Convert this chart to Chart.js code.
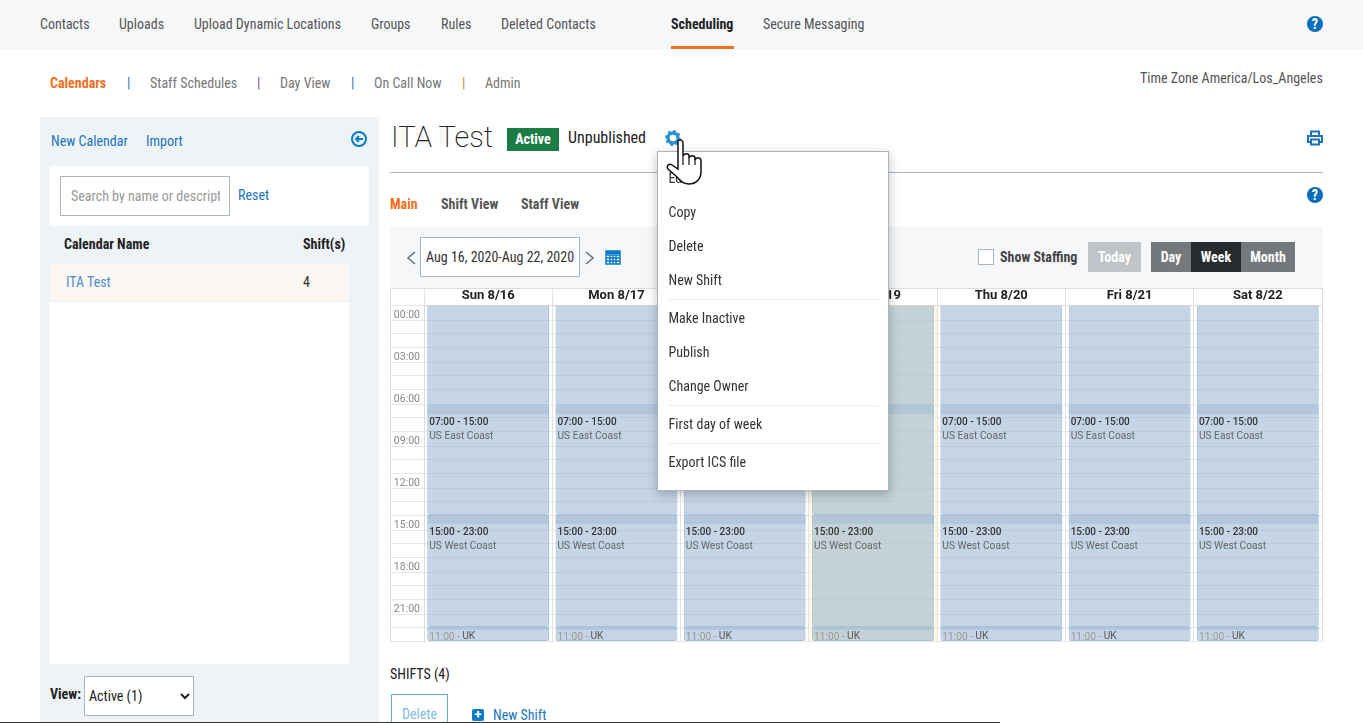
<!DOCTYPE html>
<html>
<head>
<meta charset="utf-8">
<title>ITA Test</title>
<script src="https://cdn.jsdelivr.net/npm/chart.js@4/dist/chart.umd.min.js"></script>
<style>
  html, body { margin: 0; padding: 0; background: #fff; overflow: hidden; }
  body { width: 1363px; height: 723px; position: relative; font-family: "Roboto Condensed", Roboto, sans-serif; font-size: 14px; color: #333; font-stretch: condensed; }
  .box { position: absolute; box-sizing: border-box; }
  .t { position: absolute; white-space: nowrap; transform: translateY(-50%); line-height: 1; }
  .nav { color: #555; }
  .b { font-weight: 700; }
  .link { color: #1b75bb; }
  .btn { position: absolute; top: 242px; height: 30px; line-height: 30px; text-align: center; color: #fff; font-weight: 700; }
  .sep { position: absolute; left: 668px; width: 210px; height: 1px; background: #eee; }
  canvas { position: absolute; left: 391px; top: 288px; }
  svg { position: absolute; }
</style>
</head>
<body>
<!-- barra de arriba -->
<div class="box" style="left:0;top:0;width:1363px;height:49px;background:#f6f7f9"></div>
<span class="t nav" style="left:40px;top:24px">Contacts</span>
<span class="t nav" style="left:119px;top:24px">Uploads</span>
<span class="t nav" style="left:194px;top:24px">Upload Dynamic Locations</span>
<span class="t nav" style="left:371px;top:24px">Groups</span>
<span class="t nav" style="left:441px;top:24px">Rules</span>
<span class="t nav" style="left:501px;top:24px">Deleted Contacts</span>
<span class="t b" style="left:671px;top:24px;color:#222">Scheduling</span>
<div class="box" style="left:671px;top:46px;width:63px;height:3px;background:#f26f21"></div>
<span class="t nav" style="left:763px;top:24px">Secure Messaging</span>
<svg style="left:1307px;top:16px" width="16" height="16" viewBox="0 0 16 16"><circle cx="8" cy="8" r="8" fill="#0a6ebd"/><text x="8" y="13" font-size="14" font-weight="700" text-anchor="middle" fill="#fff">?</text></svg>

<span class="t b" style="left:50px;top:83px;color:#f26f21">Calendars</span>
<span class="t" style="left:127px;top:83px;color:#1b75bb">|</span>
<span class="t nav" style="left:150px;top:83px;color:#777">Staff Schedules</span>
<span class="t" style="left:257px;top:83px;color:#8a4f9e">|</span>
<span class="t nav" style="left:280px;top:83px;color:#777">Day View</span>
<span class="t" style="left:351px;top:83px;color:#1b75bb">|</span>
<span class="t nav" style="left:374px;top:83px;color:#777">On Call Now</span>
<span class="t" style="left:462px;top:83px;color:#c98a3a">|</span>
<span class="t nav" style="left:485px;top:83px;color:#777">Admin</span>
<span class="t nav" style="left:1140px;top:78px">Time Zone America/Los_Angeles</span>

<!-- panel izquierdo -->
<div class="box" style="left:40px;top:117px;width:339px;height:606px;background:#eef3f6"></div>
<span class="t link" style="left:51px;top:141px">New Calendar</span>
<span class="t link" style="left:146px;top:141px">Import</span>
<svg style="left:351px;top:131px" width="16" height="16" viewBox="0 0 16 16"><circle cx="8" cy="8" r="7" fill="none" stroke="#0a7cc4" stroke-width="2"/><path d="M12 8H6M8 5L5 8l3 3" fill="none" stroke="#0a7cc4" stroke-width="2"/></svg>
<div class="box" style="left:50px;top:166px;width:319px;height:60px;background:#fff"></div>
<div class="box" style="left:60px;top:176px;width:170px;height:40px;border:1px solid #a9b6c0;background:#fff"><span class="t" style="left:10px;top:19px;color:#999;width:149px;overflow:hidden">Search by name or descripti</span></div>
<span class="t link" style="left:238px;top:195px">Reset</span>
<span class="t b" style="left:64px;top:244px;color:#222">Calendar Name</span>
<span class="t b" style="left:303px;top:244px;color:#222">Shift(s)</span>
<div class="box" style="left:50px;top:264px;width:299px;height:400px;background:#fff"></div>
<div class="box" style="left:50px;top:264px;width:299px;height:38px;background:#fcf7f3;border-bottom:1px solid #eef3f6"></div>
<span class="t link" style="left:66px;top:282px;color:#4a90c8">ITA Test</span>
<span class="t" style="left:303px;top:282px">4</span>
<span class="t b" style="left:50px;top:694px;color:#222">View:</span>
<select class="box" style="left:84px;top:676px;width:110px;height:40px;border:1px solid #a9b6c0;background:#fff;font:inherit;color:#222;padding-left:0"><option>Active (1)</option></select>

<!-- encabezado del calendario -->
<span class="t" style="left:391px;top:137px;font-family:Roboto;font-stretch:normal;font-size:29px;font-weight:200;color:#222">ITA Test</span>
<div class="box b" style="left:507px;top:128px;width:52px;height:23px;line-height:23px;text-align:center;background:#1c7c45;color:#fff">Active</div>
<span class="t" style="left:568px;top:138px;color:#222;font-size:16px">Unpublished</span>
<svg style="left:665px;top:130px" width="16" height="16" viewBox="0 0 16 16"><circle cx="8" cy="8" r="5" fill="none" stroke="#2a8fd0" stroke-width="3.4"/><circle cx="8" cy="8" r="7" fill="none" stroke="#2a8fd0" stroke-width="2" stroke-dasharray="2.6 2.9"/></svg>
<svg style="left:1307px;top:130px" width="16" height="16" viewBox="0 0 16 16"><path d="M4 6V1.5h8V6M4 12H1V6h14v6h-3M4 9.5h8v5H4z" fill="none" stroke="#1b75bb" stroke-width="2"/></svg>
<div class="box" style="left:390px;top:172px;width:933px;height:1px;background:#a9b6c0"></div>
<span class="t b" style="left:390px;top:204px;color:#f26f21">Main</span>
<span class="t b" style="left:441px;top:204px;color:#555">Shift View</span>
<span class="t b" style="left:521px;top:204px;color:#555">Staff View</span>
<svg style="left:1307px;top:187px" width="16" height="16" viewBox="0 0 16 16"><circle cx="8" cy="8" r="8" fill="#0a6ebd"/><text x="8" y="13" font-size="14" font-weight="700" text-anchor="middle" fill="#fff">?</text></svg>

<!-- barra de herramientas -->
<div class="box" style="left:390px;top:227px;width:933px;height:61px;background:#f5f7f9"></div>
<svg style="left:405px;top:250px" width="12" height="16" viewBox="0 0 12 16"><path d="M10 2L3 8l7 6" fill="none" stroke="#6b7780" stroke-width="1.6"/></svg>
<div class="box" style="left:420px;top:237px;width:160px;height:40px;border:1px solid #a9b6c0;background:#fff"><span class="t" style="left:5px;top:19px">Aug 16, 2020-Aug 22, 2020</span></div>
<svg style="left:584px;top:250px" width="12" height="16" viewBox="0 0 12 16"><path d="M2 2l7 6-7 6" fill="none" stroke="#6b7780" stroke-width="1.6"/></svg>
<svg style="left:605px;top:249px" width="16" height="16" viewBox="0 0 16 16"><path d="M1 2h14v13H1zM1 6h14M1 9h14M1 12h14M5 6v9M8 6v9M11 6v9" fill="none" stroke="#0a7cc4" stroke-width="1.5"/><path d="M1 2h14v3H1z" fill="#0a7cc4"/></svg>
<div class="box" style="left:978px;top:249px;width:16px;height:16px;border:1px solid #a9b6c0;background:#fff"></div>
<span class="t b" style="left:1000px;top:257px;color:#444">Show Staffing</span>
<div class="btn" style="left:1088px;width:53px;background:#c0c4c6">Today</div>
<div class="btn" style="left:1151px;width:40px;background:#74787b">Day</div>
<div class="btn" style="left:1191px;width:50px;background:#272b2e">Week</div>
<div class="btn" style="left:1241px;width:54px;background:#74787b">Month</div>

<!-- calendario -->
<div class="box" style="left:390px;top:288px;width:933px;height:354px;border:1px solid #ddd;background:#fff"></div>
<canvas id="calendario" width="931" height="354"></canvas>

<!-- menu del engrane -->
<div class="box" style="left:657px;top:151px;width:232px;height:340px;background:#fff;border:1px solid #a9b6c0;box-shadow:0 3px 10px rgba(0,0,0,.25)"></div>
<span class="t" style="left:668.5px;top:178px">Edit</span>
<span class="t" style="left:668.5px;top:212px">Copy</span>
<span class="t" style="left:668.5px;top:246px">Delete</span>
<span class="t" style="left:668.5px;top:280px">New Shift</span>
<div class="sep" style="top:299px"></div>
<span class="t" style="left:668.5px;top:318px">Make Inactive</span>
<span class="t" style="left:668.5px;top:352px">Publish</span>
<span class="t" style="left:668.5px;top:386px">Change Owner</span>
<div class="sep" style="top:405px"></div>
<span class="t" style="left:668.5px;top:424px">First day of week</span>
<div class="sep" style="top:443px"></div>
<span class="t" style="left:668.5px;top:462px">Export ICS file</span>
<!-- la manita -->
<svg style="left:666px;top:138px" width="38" height="50" viewBox="0 0 38 50"><path d="M12 3c2-2 5-1 5 2v13c1-3 6-3 6 0v2c1-3 6-3 6 0v2c1-3 6-3 6 1v11c0 7-5 12-12 12-6 0-9-3-12-7l-9-8c-2-3 1-6 4-4l6 4z" fill="#fff" stroke="#111" stroke-width="1.5"/><path d="M17 18v9M23 20v7M29 22v5" stroke="#111" stroke-width="1.2"/></svg>

<!-- abajo -->
<span class="t" style="left:390px;top:674px;color:#222">SHIFTS (4)</span>
<div class="box" style="left:391px;top:694px;width:57px;height:34px;border:1px solid #5fb0dc;color:#7fbbe0;text-align:center;line-height:38px">Delete</div>
<div class="box" style="left:472px;top:709px;width:12px;height:12px;background:#0a7cc4;border-radius:2px;color:#fff;font:700 13px/12px Roboto;text-align:center">+</div>
<span class="t link" style="left:493px;top:715px">New Shift</span>
<div class="box" style="left:0;top:722px;width:1000px;height:1px;background:#333"></div>

<script>
// Datos del calendario
const days = ['Sun 8/16', 'Mon 8/17', 'Tue 8/18', 'Wed 8/19', 'Thu 8/20', 'Fri 8/21', 'Sat 8/22'];
const timeLabels = { 0: '00:00', 3: '03:00', 6: '06:00', 9: '09:00', 12: '12:00', 15: '15:00', 18: '18:00', 21: '21:00' };
// las lineas de la rejilla no caen parejas en cada hora
const gridHours = [0, 1.14, 2.07, 3, 4.14, 5.07, 6, 7.14, 8.07, 9, 10.14, 11.07, 12, 13.14, 14.07, 15, 16.14, 17.07, 18, 19.14, 20.07, 21, 22.14, 23.07, 24];

const todayColumn = [null, null, null, [0, 24], null, null, null];
// en la imagen el cambio de turno de la manana cae un poco despues de las 7
const overnightShift = [[0, 7.15], [0, 7.15], [0, 7.15], [0, 7.15], [0, 7.15], [0, 7.15], [0, 7.15]];
const eastCoastShift = [[7.15, 15], [7.15, 15], [7.15, 15], [7.15, 15], [7.15, 15], [7.15, 15], [7.15, 15]];
const westCoastShift = [[15, 23], [15, 23], [15, 23], [15, 23], [15, 23], [15, 23], [15, 23]];
const ukShift = [[23, 24], [23, 24], [23, 24], [23, 24], [23, 24], [23, 24], [23, 24]];

const shiftBar = { backgroundColor: 'rgba(152,180,208,.56)', borderColor: '#a9c3dc', borderWidth: 1, borderRadius: 2, barPercentage: .95, categoryPercentage: 1 };

// Dibuja la franja de arriba de cada turno y sus textos
const shiftText = {
  id: 'shiftText',
  afterDatasetsDraw(chart) {
    const ctx = chart.ctx, area = chart.chartArea;
    ctx.save();
    ctx.beginPath();
    ctx.rect(area.left, area.top, area.right - area.left, area.bottom - area.top);
    ctx.clip();
    ctx.textBaseline = 'middle';
    chart.data.datasets.forEach((ds, i) => {
      if (!ds.shiftName) return;
      chart.getDatasetMeta(i).data.forEach(bar => {
        const left = bar.x - bar.width / 2;
        const top = Math.min(bar.y, bar.base);
        ctx.fillStyle = 'rgba(150,180,212,.4)';
        if (ds.shiftName === 'UK') {
          ctx.fillRect(left, top, bar.width, 3);
          ctx.font = '10.2px Roboto';
          ctx.fillStyle = '#999';
          ctx.fillText(ds.shiftTime, left + 2, top + 10);
          ctx.fillStyle = '#555';
          ctx.fillText(ds.shiftName, left + 35, top + 9);
        } else {
          ctx.fillRect(left, top, bar.width, 9);
          ctx.font = '500 10px Roboto';
          ctx.fillStyle = '#333';
          ctx.fillText(ds.shiftTime, left + 2, top + 17);
          ctx.font = '10.2px Roboto';
          ctx.fillStyle = '#666';
          ctx.fillText(ds.shiftName, left + 2, top + 31);
        }
      });
    });
    ctx.restore();
  }
};

new Chart(document.getElementById('calendario'), {
  type: 'bar',
  plugins: [shiftText],
  data: {
    labels: days,
    datasets: [
      { data: todayColumn, backgroundColor: 'rgba(250,240,190,.45)', barPercentage: 1, categoryPercentage: 1, order: 5 },
      { data: overnightShift, ...shiftBar },
      { data: eastCoastShift, ...shiftBar, shiftName: 'US East Coast', shiftTime: '07:00 - 15:00' },
      { data: westCoastShift, ...shiftBar, shiftName: 'US West Coast', shiftTime: '15:00 - 23:00' },
      { data: ukShift, ...shiftBar, shiftName: 'UK', shiftTime: '11:00 -' }
    ]
  },
  options: {
    responsive: false,
    animation: false,
    devicePixelRatio: 1,
    layout: { padding: { bottom: 1 } },
    datasets: { bar: { grouped: false } },
    plugins: { legend: { display: false }, tooltip: { enabled: false } },
    scales: {
      x: {
        position: 'top',
        afterFit: s => { s.height = 17; },
        grid: { color: '#e2e2e2', tickLength: 17 },
        border: { color: '#ddd' },
        ticks: { color: '#222', padding: -16, maxRotation: 0, font: { family: 'Roboto', size: 13, weight: '700' } }
      },
      y: {
        reverse: true,
        min: 0,
        max: 24,
        afterFit: s => { s.width = 33; },
        afterBuildTicks: s => { s.ticks = gridHours.map(v => ({ value: v })); },
        grid: { color: '#e6e6e6', tickLength: 33 },
        border: { color: '#ddd' },
        ticks: {
          color: '#888',
          padding: -29,
          labelOffset: 10,
          autoSkip: false,
          font: { family: 'Roboto', size: 10.5 },
          callback: v => timeLabels[v] || ''
        }
      }
    }
  }
});
</script>
</body>
</html>
